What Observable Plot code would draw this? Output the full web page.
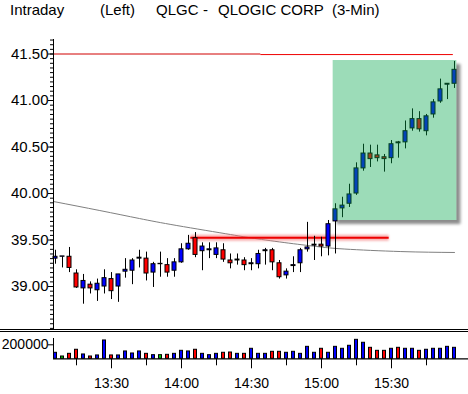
<!DOCTYPE html>
<html><head><meta charset="utf-8">
<script src="https://cdn.jsdelivr.net/npm/d3@7"></script>
<script src="https://cdn.jsdelivr.net/npm/@observablehq/plot@0.6"></script>
<style>
body{margin:0;background:#fff;width:468px;height:394px;overflow:hidden;font-family:"Liberation Sans",Arial,sans-serif;color:#000;}
#title{position:relative;height:22px;font-size:15px;line-height:17px;}
#title span{position:absolute;top:1px;white-space:pre;}
.sep{height:1px;border-top:1px solid #000;border-bottom:1px solid #000;}
svg{display:block}
</style></head><body>
<div id="title"></div>
<div id="price"></div>
<div class="sep"></div>
<div id="vol"></div>
<script>
// ---------- data ----------
const titleParts = ["Intraday", "(Left)", "QLGC", "-", "QLOGIC CORP", "(3-Min)"];
const startTime = "13:06";   // first 3-minute bar
const barMinutes = 3;
const opens  = [39.30,39.32,39.32,39.14,38.98,39.02,38.96,39.00,39.08,39.00,39.16,39.17,39.30,39.30,39.15,39.24,39.23,39.17,39.26,39.40,39.52,39.38,39.39,39.34,39.39,39.28,39.28,39.28,39.24,39.24,39.38,39.39,39.25,39.12,39.22,39.25,39.40,39.44,39.45,39.43,39.70,39.84,39.89,40.00,40.27,40.43,40.41,40.39,40.38,40.55,40.55,40.70,40.80,40.67,40.85,40.99,41.17,41.18];
const highs  = [39.39,39.32,39.42,39.18,39.13,39.05,39.08,39.18,39.15,39.13,39.30,39.30,39.39,39.37,39.26,39.37,39.30,39.30,39.46,39.55,39.58,39.47,39.47,39.47,39.46,39.35,39.35,39.31,39.30,39.39,39.41,39.41,39.28,39.19,39.32,39.41,39.69,39.54,39.53,39.71,39.89,39.96,40.10,40.33,40.53,40.52,40.52,40.42,40.57,40.56,40.78,40.91,40.88,40.85,41.01,41.23,41.18,41.42];
const lows   = [39.24,39.20,39.15,38.98,38.81,38.92,38.84,38.92,38.86,38.83,39.09,39.02,39.20,39.06,38.99,39.10,39.10,39.10,39.25,39.39,39.31,39.17,39.30,39.30,39.26,39.19,39.23,39.17,39.17,39.19,39.23,39.17,39.08,39.08,39.15,39.15,39.37,39.28,39.32,39.33,39.35,39.74,39.85,39.98,40.24,40.28,40.34,40.23,40.32,40.38,40.48,40.67,40.66,40.62,40.81,40.97,41.01,41.13];
const closes = [39.32,39.32,39.20,38.99,39.06,38.98,39.03,39.09,38.95,39.13,39.18,39.28,39.31,39.14,39.24,39.24,39.15,39.26,39.40,39.46,39.34,39.43,39.40,39.41,39.29,39.25,39.29,39.23,39.25,39.35,39.39,39.26,39.10,39.16,39.23,39.39,39.42,39.45,39.43,39.67,39.83,39.87,39.99,40.27,40.43,40.37,40.38,40.37,40.53,40.54,40.67,40.80,40.69,40.83,40.98,41.12,41.18,41.33];
const volumes = [85700,33000,71000,129000,62000,33000,48000,262000,48000,48000,105000,76000,105000,71000,52000,52000,57000,71000,114000,105000,129000,71000,52000,71000,86000,90000,71000,71000,143000,71000,71000,100000,100000,86000,100000,71000,171000,86000,143000,86000,171000,143000,186000,271000,229000,157000,114000,114000,143000,157000,143000,143000,114000,129000,143000,143000,171000,157000];

// moving-average (gray) line
const maTimes  = ["13:05:10","13:25","13:42","13:58","14:21","14:30","14:44","14:58","15:10","15:34","15:57"];
const maValues = [39.914,39.817,39.731,39.656,39.559,39.522,39.473,39.430,39.403,39.376,39.366];

// horizontal level lines
const topLevel = 41.50;
const topLevelTimes = ["13:05:09","14:34","15:56:30"];
const glowLevel = 39.525;
const glowTimes = ["14:04","15:29"];

// highlighted zone
const zoneTimes = ["15:05","15:58"];
const zonePrices = [39.71, 41.43];

// axes
const priceTicks = [39.00, 39.50, 40.00, 40.50, 41.00, 41.50];
const timeLabels = ["13:30","14:00","14:30","15:00","15:30"];
const timeMinor  = ["13:15","13:45","14:15","14:45","15:15","15:45"];
const volumeTicks = [200000];

// ---------- helpers ----------
const tm = s => { const [h,m,sec=0] = s.split(":").map(Number); return new Date(Date.UTC(2000,0,3,h,m,sec)); };
const MIN = 60000;
const PX = barMinutes * MIN / 7;         // one pixel in time
const t0 = tm(startTime);
const candles = opens.map((o, i) => ({
  t: new Date(+t0 + i * barMinutes * MIN), o, h: highs[i], l: lows[i], c: closes[i], v: volumes[i]
}));
const xDomain = [new Date(+t0 - 2 * PX), new Date(+t0 + 413 * PX)];
const upC = "#0000ff", dnC = "#ff0000", eqC = "#00c800";
const bodyColor = d => d.c > d.o ? upC : d.c < d.o ? dnC : upC;
const volColor = d => d.c > d.o ? upC : d.c < d.o ? dnC : eqC;

// title
const titleX = [10, 100, 156, 203, 218, 332];
const title = document.getElementById("title");
titleParts.forEach((s, i) => { const sp = document.createElement("span"); sp.textContent = s; sp.style.left = titleX[i] + "px"; title.appendChild(sp); });

const zone = [{x1: tm(zoneTimes[0]), x2: tm(zoneTimes[1]), y1: zonePrices[0], y2: zonePrices[1]}];
const maData = maTimes.map((s, i) => ({t: tm(s), v: maValues[i]}));
const minorY = d3.range(38.55, 41.651, 0.05);

const font = "Liberation Sans, Arial, sans-serif";

const price = Plot.plot({
  width: 468, height: 307,
  marginLeft: 53, marginRight: 0, marginTop: 17, marginBottom: 0,
  x: {type: "utc", domain: xDomain, axis: null},
  y: {domain: [38.538, 41.656]},
  style: {fontFamily: font, fontSize: "15px", background: "white", overflow: "visible", color: "black"},
  marks: [
    Plot.rect(zone, {x1: "x1", x2: "x2", y1: "y1", y2: "y2", fill: "#8c8c8c", dx: 4, dy: 4, imageFilter: "blur(1.5px)"}),
    Plot.rect(zone, {x1: "x1", x2: "x2", y1: "y1", y2: "y2", fill: "white"}),
    Plot.line(maData, {x: "t", y: "v", stroke: "#808080", strokeWidth: 1, curve: "natural"}),
    Plot.ruleY([topLevel], {x1: tm(topLevelTimes[0]), x2: tm(topLevelTimes[1]), stroke: "#d00000", strokeWidth: 1}),
    Plot.ruleY([topLevel - 0.006], {x1: tm(topLevelTimes[1]), x2: tm(topLevelTimes[2]), stroke: "#ee0000", strokeWidth: 1}),
    Plot.ruleY([glowLevel], {x1: tm(glowTimes[0]), x2: tm(glowTimes[1]), stroke: "#f47a7a", strokeOpacity: 0.6, strokeWidth: 6, imageFilter: "blur(1px)"}),
    Plot.ruleY([glowLevel], {x1: tm(glowTimes[0]), x2: tm(glowTimes[1]), stroke: "#ee0000", strokeWidth: 2}),
    Plot.ruleX(candles, {x: "t", y1: "l", y2: "h", stroke: "black", strokeWidth: 1}),
    Plot.rect(candles, {
      x1: d => new Date(+d.t - 2 * PX), x2: d => new Date(+d.t + 2 * PX),
      y1: d => Math.min(d.o, d.c), y2: d => Math.max(d.o, d.c) + (d.o === d.c ? 0.004 : 0),
      fill: bodyColor, stroke: "black", strokeWidth: 1
    }),
    Plot.rect(zone, {x1: "x1", x2: "x2", y1: "y1", y2: "y2", fill: "rgb(8,168,78)", fillOpacity: 0.4}),
    Plot.ruleX([xDomain[0]], {stroke: "black"}),
    Plot.axisY(minorY, {tickSize: 3, tickFormat: () => "", label: null}),
    Plot.axisY(priceTicks, {tickSize: 5, tickPadding: 0, tickFormat: d3.format(".2f"), label: null, fontSize: 15})
  ]
});
document.getElementById("price").appendChild(price);

const vol = Plot.plot({
  width: 468, height: 62,
  marginLeft: 53, marginRight: 0, marginTop: 4, marginBottom: 35.7,
  x: {type: "utc", domain: xDomain},
  y: {domain: [0, 318571]},
  style: {fontFamily: font, fontSize: "14px", background: "white", overflow: "visible", color: "black"},
  marks: [
    Plot.rect(candles, {
      x1: d => new Date(+d.t - 1.5 * PX), x2: d => new Date(+d.t + 1.5 * PX),
      y1: 0, y2: "v", fill: volColor, stroke: "black", strokeWidth: 1
    }),
    Plot.ruleY([0], {stroke: "black", strokeWidth: 1.3}),
    Plot.ruleX([xDomain[0]], {y1: 0, y2: 290000, stroke: "black"}),
    Plot.axisY(volumeTicks, {tickSize: 5, tickPadding: 0, tickFormat: d3.format("d"), label: null, fontSize: 14}),
    Plot.axisX(timeMinor.map(tm), {tickSize: 7, tickFormat: () => "", label: null}),
    Plot.axisX(timeLabels.map(tm), {tickSize: 10, tickPadding: 9, tickFormat: d3.utcFormat("%H:%M"), label: null, fontSize: 14})
  ]
});
document.getElementById("vol").appendChild(vol);
</script>
</body></html>
